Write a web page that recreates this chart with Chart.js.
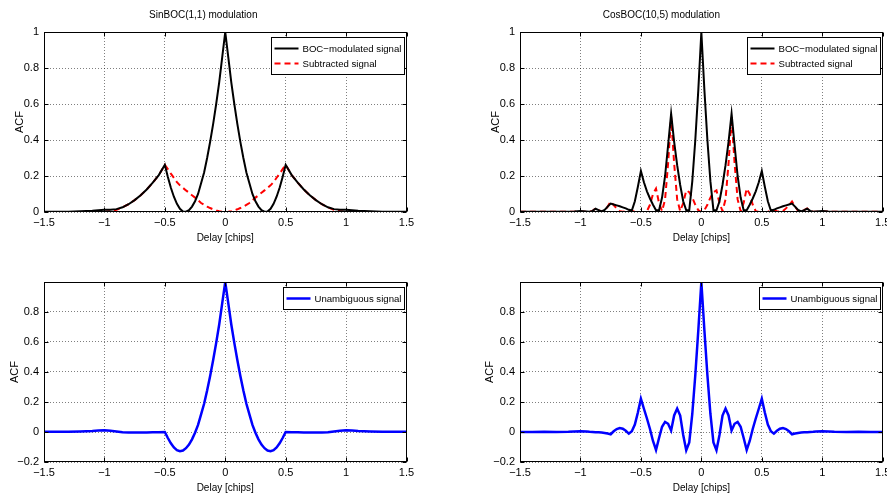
<!DOCTYPE html>
<html><head><meta charset="utf-8">
<script src="https://cdn.jsdelivr.net/npm/chart.js@4/dist/chart.umd.min.js"></script>
<style>
html,body{margin:0;padding:0;background:#fff;width:887px;height:500px;overflow:hidden}
canvas{position:absolute;display:block}
</style></head><body>
<canvas id="c1" width="440" height="250" style="left:0;top:0"></canvas>
<canvas id="c2" width="447" height="250" style="left:440px;top:0"></canvas>
<canvas id="c3" width="440" height="250" style="left:0;top:250px"></canvas>
<canvas id="c4" width="447" height="250" style="left:440px;top:250px"></canvas>
<script>
// ---------- DATA ----------
const xTicks = [-1.5, -1, -0.5, 0, 0.5, 1, 1.5];
const yTicksTop = [0, 0.2, 0.4, 0.6, 0.8, 1];
const yTicksBottom = [-0.2, 0, 0.2, 0.4, 0.6, 0.8];
const xLabel = 'Delay [chips]';
const yLabel = 'ACF';
const titleSin = 'SinBOC(1,1) modulation';
const titleCos = 'CosBOC(10,5) modulation';
const nameBoc = 'BOC\u2212modulated signal';
const nameSub = 'Subtracted signal';
const nameUna = 'Unambiguous signal';

const sinDelay = [-1.5,-1.4,-1.3,-1.2,-1.1,-1.05,-1,-0.95,-0.9,-0.85,-0.8,-0.75,-0.7,-0.65,-0.6,-0.55,-0.5,
  -0.475,-0.45,-0.425,-0.4,-0.375,-0.35,-0.325,-0.3,-0.275,-0.25,-0.225,-0.2,-0.175,-0.15,-0.125,-0.1,-0.075,-0.05,-0.025,
  0,0.025,0.05,0.075,0.1,0.125,0.15,0.175,0.2,0.225,0.25,0.275,0.3,0.325,0.35,0.375,0.4,0.425,0.45,0.475,
  0.5,0.55,0.6,0.65,0.7,0.75,0.8,0.85,0.9,0.95,1,1.05,1.1,1.2,1.3,1.4,1.5];
const sinBoc = [0.001,0.001,0.002,0.004,0.007,0.01,0.012,0.012,0.016,0.026,0.043,0.066,0.093,0.125,0.163,0.205,0.262,
  0.195,0.135,0.085,0.045,0.018,0.003,0.002,0.01,0.03,0.06,0.1,0.16,0.22,0.3,0.39,0.49,0.6,0.72,0.86,
  1,0.86,0.72,0.6,0.49,0.39,0.3,0.22,0.16,0.1,0.06,0.03,0.01,0.002,0.003,0.018,0.045,0.085,0.135,0.195,
  0.262,0.205,0.163,0.125,0.093,0.066,0.043,0.026,0.016,0.012,0.012,0.01,0.007,0.004,0.002,0.001,0.001];
const sinSub = [0,0,0,0,0,0,0.001,0.004,0.012,0.026,0.043,0.066,0.093,0.125,0.163,0.205,0.262,
  0.238,0.213,0.19,0.166,0.148,0.134,0.12,0.107,0.093,0.08,0.065,0.05,0.04,0.03,0.022,0.015,0.009,0.004,0.001,
  0,0.001,0.004,0.009,0.015,0.022,0.03,0.04,0.05,0.065,0.08,0.093,0.107,0.12,0.134,0.148,0.166,0.19,0.213,0.238,
  0.262,0.205,0.163,0.125,0.093,0.066,0.043,0.026,0.012,0.004,0.001,0,0,0,0,0,0];
const sinUnamb = [0.001,0.001,0.002,0.004,0.007,0.01,0.011,0.008,0.004,-0.001,-0.003,-0.004,-0.004,-0.003,-0.002,-0.001,0,
  -0.04,-0.075,-0.103,-0.121,-0.128,-0.124,-0.108,-0.084,-0.049,-0.005,0.047,0.118,0.188,0.276,0.374,0.48,0.594,0.717,0.859,
  1,0.859,0.717,0.594,0.48,0.374,0.276,0.188,0.118,0.047,-0.005,-0.049,-0.084,-0.108,-0.124,-0.128,-0.121,-0.103,-0.075,-0.04,
  0,-0.001,-0.002,-0.003,-0.004,-0.004,-0.003,-0.001,0.004,0.008,0.011,0.01,0.007,0.004,0.002,0.001,0.001];

const cosDelay = [-1.5,-1.4,-1.3,-1.2,-1.1,-1.05,-1,-0.95,-0.925,-0.9,-0.875,-0.85,-0.825,-0.8,-0.775,-0.75,-0.725,-0.7,-0.675,-0.65,-0.625,-0.6,-0.575,-0.55,-0.525,-0.5,-0.475,-0.45,-0.425,-0.4,-0.375,-0.35,-0.325,-0.3,-0.275,-0.25,-0.225,-0.2,-0.175,-0.15,-0.125,-0.1,-0.075,-0.05,-0.025,
  0,0.025,0.05,0.075,0.1,0.125,0.15,0.175,0.2,0.225,0.25,0.275,0.3,0.325,0.35,0.375,0.4,0.425,0.45,0.475,0.5,0.525,0.55,0.575,0.6,0.625,0.65,0.675,0.7,0.725,0.75,0.775,0.8,0.825,0.85,0.875,0.9,0.925,0.95,1,1.05,1.1,1.2,1.3,1.4,1.5];
const cosBoc = [0.001,0.001,0.001,0.001,0.002,0.003,0.005,0.003,0.002,0.006,0.018,0.01,0.003,0.012,0.03,0.047,0.042,0.037,0.032,0.026,0.02,0.012,0.008,0.06,0.14,0.228,0.165,0.115,0.075,0.04,0.01,0.01,0.08,0.2,0.37,0.546,0.39,0.26,0.15,0.06,0.01,0.01,0.17,0.4,0.68,
  1,0.68,0.4,0.17,0.01,0.01,0.06,0.15,0.26,0.39,0.546,0.37,0.2,0.08,0.01,0.01,0.04,0.075,0.115,0.165,0.228,0.14,0.06,0.008,0.012,0.02,0.026,0.032,0.037,0.042,0.047,0.03,0.012,0.003,0.01,0.018,0.006,0.002,0.003,0.005,0.003,0.002,0.001,0.001,0.001,0.001];
const cosSub = [0.001,0.001,0.001,0.001,0.001,0.002,0.003,0.002,0.001,0.006,0.02,0.01,0.002,0.006,0.03,0.058,0.038,0.02,0.005,0.001,0.005,0.01,0.006,0.002,0,0,0,0.005,0.04,0.1,0.13,0.05,0.005,0.07,0.27,0.53,0.27,0.07,0.005,0.05,0.12,0.11,0.08,0.04,0.01,
  0,0.01,0.04,0.08,0.11,0.12,0.05,0.005,0.07,0.27,0.53,0.27,0.07,0.005,0.05,0.13,0.1,0.04,0.005,0,0,0,0.002,0.006,0.01,0.005,0.001,0.005,0.02,0.038,0.058,0.03,0.006,0.002,0.01,0.02,0.006,0.001,0.002,0.003,0.002,0.001,0.001,0.001,0.001,0.001];
const cosUnamb = [0,0,0.001,0,0.001,0.003,0.005,0.003,0.001,0,-0.001,-0.002,-0.004,-0.006,-0.01,-0.015,0.005,0.02,0.027,0.022,0.008,-0.011,0.005,0.05,0.13,0.222,0.155,0.09,0.02,-0.06,-0.12,-0.04,0.035,0.067,0.055,0.01,0.11,0.156,0.11,-0.02,-0.122,-0.07,0.12,0.38,0.68,
  1,0.68,0.38,0.12,-0.07,-0.122,-0.02,0.11,0.156,0.11,0.01,0.055,0.067,0.035,-0.04,-0.12,-0.06,0.02,0.09,0.155,0.222,0.13,0.05,0.005,-0.011,0.008,0.022,0.027,0.02,0.005,-0.015,-0.01,-0.006,-0.004,-0.002,-0.001,0,0.001,0.003,0.005,0.003,0.001,0,0.001,0,0];

// ---------- STYLE ----------
const FONT = '"Liberation Sans", Arial, Helvetica, sans-serif';
const fmt = v => (v < 0 ? '\u2212' + String(Math.abs(v)) : String(v));
const pts = (xs, ys) => xs.map((x, i) => ({x: x, y: ys[i]}));

const framePlugin = {
  id: 'frame',
  afterDatasetsDraw(chart) {
    const {ctx, chartArea: a, scales} = chart;
    const x = scales.x, y = scales.y;
    ctx.save();
    ctx.strokeStyle = '#000';
    ctx.lineWidth = 1;
    ctx.setLineDash([]);
    const L = Math.round(a.left) + 0.5, T = Math.round(a.top) + 0.5;
    const R = Math.round(a.right) - 0.5, B = Math.round(a.bottom) - 0.5;
    ctx.strokeRect(L, T, R - L, B - T);
    ctx.beginPath();
    const tl = 4;
    x.ticks.forEach(t => {
      const px = Math.round(x.getPixelForValue(t.value)) + 0.5;
      ctx.moveTo(px, B); ctx.lineTo(px, B - tl);
      ctx.moveTo(px, T); ctx.lineTo(px, T + tl);
    });
    y.ticks.forEach(t => {
      const py = Math.round(y.getPixelForValue(t.value)) + 0.5;
      ctx.moveTo(L, py); ctx.lineTo(L + tl, py);
      ctx.moveTo(R, py); ctx.lineTo(R - tl, py);
    });
    ctx.stroke();

    // legend box (top-right inside the axes)
    const ds = chart.data.datasets;
    ctx.font = '9.6px ' + FONT;
    let tw = 0;
    ds.forEach(d => { tw = Math.max(tw, ctx.measureText(d.label).width); });
    const padL = 3, lineLen = 24, gap = 4, padR = 3, padV = 3.5, rowH = 15;
    const w = Math.round(padL + lineLen + gap + tw + padR);
    const h = Math.round(padV * 2 + rowH * ds.length);
    const bx = Math.round(a.right - 3 - w) + 0.5;
    const by = Math.round(a.top + 5) + 0.5;
    ctx.fillStyle = '#fff';
    ctx.fillRect(bx, by, w, h);
    ctx.strokeStyle = '#000';
    ctx.lineWidth = 1;
    ctx.strokeRect(bx, by, w, h);
    ds.forEach((d, i) => {
      const cy = by + padV + rowH * i + rowH / 2;
      ctx.beginPath();
      ctx.strokeStyle = d.borderColor;
      ctx.lineWidth = d.borderWidth;
      ctx.setLineDash(d.borderDash || []);
      ctx.moveTo(bx + padL, cy);
      ctx.lineTo(bx + padL + lineLen, cy);
      ctx.stroke();
      ctx.setLineDash([]);
      ctx.fillStyle = '#000';
      ctx.textBaseline = 'middle';
      ctx.textAlign = 'left';
      ctx.fillText(d.label, bx + padL + lineLen + gap, cy + 0.5);
    });
    ctx.restore();
  }
};

function makeChart(id, o) {
  return new Chart(document.getElementById(id), {
    type: 'line',
    data: {datasets: o.datasets},
    options: {
      responsive: false,
      animation: false,
      devicePixelRatio: 1,
      elements: {point: {radius: 0}, line: {tension: 0}},
      layout: {padding: {top: o.title ? 0 : 32, right: o.padRight, left: 0, bottom: 0}},
      plugins: {
        legend: {display: false},
        tooltip: {enabled: false},
        title: {
          display: !!o.title, text: o.title || '', color: '#000',
          font: {family: FONT, size: 10, weight: 'normal'},
          padding: {top: 9.5, bottom: 10.5}
        }
      },
      scales: {
        x: {
          type: 'linear', min: -1.5, max: 1.5,
          afterBuildTicks: s => { s.ticks = xTicks.map(v => ({value: v})); },
          afterFit: s => { s.height = 38; s.paddingLeft = 0; s.paddingRight = 0; },
          ticks: {callback: v => fmt(v), color: '#000', font: {family: FONT, size: 11}, padding: 4, maxRotation: 0, autoSkip: false},
          grid: {color: 'rgba(0,0,0,0.5)', lineWidth: 1, drawTicks: false},
          border: {display: false, dash: [1, 2]},
          title: {display: true, text: xLabel, color: '#000', font: {family: FONT, size: 10}, padding: {top: 0, bottom: 5.5}}
        },
        y: {
          type: 'linear', min: o.ymin, max: 1,
          afterBuildTicks: s => { s.ticks = o.yTicks.map(v => ({value: v})); },
          afterFit: s => { s.width = o.yWidth; s.paddingTop = 0; s.paddingBottom = 0; },
          ticks: {callback: v => fmt(v), color: '#000', font: {family: FONT, size: 11}, padding: 5, autoSkip: false},
          grid: {color: 'rgba(0,0,0,0.5)', lineWidth: 1, drawTicks: false},
          border: {display: false, dash: [1, 2]},
          title: {display: true, text: yLabel, color: '#000', font: {family: FONT, size: 11}, padding: {top: o.yTitlePad, bottom: 0}}
        }
      }
    },
    plugins: [framePlugin]
  });
}

const bocStyle = {label: nameBoc, borderColor: '#000000', borderWidth: 2, borderDash: [], fill: false};
const subStyle = {label: nameSub, borderColor: '#ff0000', borderWidth: 2, borderDash: [6, 4], fill: false};
const unaStyle = {label: nameUna, borderColor: '#0000ff', borderWidth: 2.5, borderDash: [], fill: false};

makeChart('c1', {
  title: titleSin, padRight: 33.5, yWidth: 44, yTitlePad: 13.4, ymin: 0, yTicks: yTicksTop,
  datasets: [Object.assign({data: pts(sinDelay, sinBoc)}, bocStyle), Object.assign({data: pts(sinDelay, sinSub)}, subStyle)]
});
makeChart('c2', {
  title: titleCos, padRight: 4.3, yWidth: 80, yTitlePad: 49.4, ymin: 0, yTicks: yTicksTop,
  datasets: [Object.assign({data: pts(cosDelay, cosBoc)}, bocStyle), Object.assign({data: pts(cosDelay, cosSub)}, subStyle)]
});
makeChart('c3', {
  title: null, padRight: 33.5, yWidth: 44, yTitlePad: 8.4, ymin: -0.2, yTicks: yTicksBottom,
  datasets: [Object.assign({data: pts(sinDelay, sinUnamb)}, unaStyle)]
});
makeChart('c4', {
  title: null, padRight: 4.3, yWidth: 80, yTitlePad: 43.4, ymin: -0.2, yTicks: yTicksBottom,
  datasets: [Object.assign({data: pts(cosDelay, cosUnamb)}, unaStyle)]
});
</script>
</body></html>
